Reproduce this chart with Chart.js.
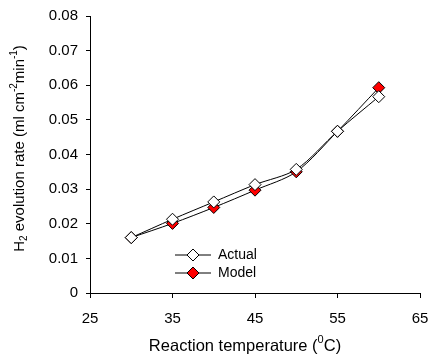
<!DOCTYPE html>
<html>
<head>
<meta charset="utf-8">
<script src="https://cdn.jsdelivr.net/npm/chart.js@4/dist/chart.umd.min.js"></script>
<style>
html,body{margin:0;padding:0;background:#fff;}
#wrap{width:430px;height:358px;position:relative;}
</style>
</head>
<body>
<div id="wrap"><canvas id="c" width="430" height="358"></canvas></div>
<script>
const temperatures = [30, 35, 40, 45, 50, 55, 60];
const actualRate = [0.016, 0.0213, 0.0263, 0.0313, 0.0357, 0.0467, 0.0567];
const modelRate = [0.016, 0.0201, 0.0247, 0.0297, 0.035, 0.0467, 0.0593];
const xTicks = [25, 35, 45, 55, 65];
const yTicks = [0, 0.01, 0.02, 0.03, 0.04, 0.05, 0.06, 0.07, 0.08];
const seriesNames = ['Actual', 'Model'];
const xTitle = [{t:'Reaction temperature ('},{t:'0',sup:true},{t:'C)'}];
const yTitle = [{t:'H'},{t:'2',sub:true},{t:' evolution rate (ml cm'},{t:'-2',sup:true},{t:'min'},{t:'-1',sup:true},{t:')'}];

const FONT = 'Liberation Sans, Arial, sans-serif';
const FS = 15;

function richWidth(ctx, segs, fs){
  let w = 0;
  segs.forEach(s=>{
    const size = (s.sup||s.sub) ? Math.round(fs*0.65) : fs;
    ctx.font = size + 'px ' + FONT;
    w += ctx.measureText(s.t).width;
  });
  return w;
}
function drawRich(ctx, segs, fs, cx, cy){
  const w = richWidth(ctx, segs, fs);
  let x = cx - w/2;
  ctx.textBaseline = 'middle';
  ctx.textAlign = 'left';
  segs.forEach(s=>{
    const size = (s.sup||s.sub) ? Math.round(fs*0.65) : fs;
    ctx.font = size + 'px ' + FONT;
    let dy = 0;
    if (s.sup) dy = -fs*0.38;
    if (s.sub) dy = fs*0.28;
    ctx.fillText(s.t, x, cy + dy);
    x += ctx.measureText(s.t).width;
  });
}

const titlesPlugin = {
  id: 'titles',
  afterDraw(chart){
    const ctx = chart.ctx;
    const ca = chart.chartArea;
    ctx.save();
    ctx.fillStyle = '#000';
    drawRich(ctx, xTitle, 16.5, (ca.left+ca.right)/2 - 10, 346);
    ctx.save();
    ctx.translate(20, (ca.top+ca.bottom)/2 - 6);
    ctx.rotate(-Math.PI/2);
    drawRich(ctx, yTitle, FS, 0, 0);
    ctx.restore();
    ctx.restore();
  }
};

const legendPlugin = {
  id: 'customLegend',
  afterDraw(chart){
    const ctx = chart.ctx;
    const ca = chart.chartArea;
    const x0 = ca.left + 85;
    const ys = [ca.bottom - 38, ca.bottom - 20];
    chart.data.datasets.forEach((ds, i)=>{
      const y = ys[i];
      ctx.save();
      ctx.strokeStyle = '#000';
      ctx.lineWidth = 1;
      ctx.beginPath();
      ctx.moveTo(x0, y); ctx.lineTo(x0+36, y);
      ctx.stroke();
      ctx.fillStyle = ds.pointBackgroundColor;
      ctx.strokeStyle = '#000';
      ctx.beginPath();
      const r = ds.pointRadius;
      const mx = x0+18;
      ctx.moveTo(mx, y-r); ctx.lineTo(mx+r, y); ctx.lineTo(mx, y+r); ctx.lineTo(mx-r, y); ctx.closePath();
      ctx.fill(); ctx.stroke();
      ctx.fillStyle = '#000';
      ctx.font = '14px ' + FONT;
      ctx.textBaseline = 'middle';
      ctx.textAlign = 'left';
      ctx.fillText(ds.label, x0+43, y);
      ctx.restore();
    });
  }
};

const mk = (arr) => temperatures.map((t,i)=>({x:t, y:arr[i]}));

new Chart(document.getElementById('c'), {
  type: 'line',
  data: {
    datasets: [
      {label: seriesNames[0], data: mk(actualRate), borderColor:'#000', borderWidth:1,
       pointStyle:'rectRot', pointRadius:6, pointBackgroundColor:'#ffffff', pointBorderColor:'#000', pointBorderWidth:1,
       tension:0.3, fill:false},
      {label: seriesNames[1], data: mk(modelRate), borderColor:'#000', borderWidth:1,
       pointStyle:'rectRot', pointRadius:6, pointBackgroundColor:'#ff0000', pointBorderColor:'#000', pointBorderWidth:1,
       tension:0.3, fill:false}
    ]
  },
  options: {
    responsive:false,
    animation:false,
    layout:{padding:{left:0, right:0, top:16, bottom:0}},
    plugins:{legend:{display:false}, tooltip:{enabled:false}},
    scales:{
      x:{
        type:'linear', min:xTicks[0], max:xTicks[xTicks.length-1],
        afterBuildTicks(s){ s.ticks = xTicks.map(v=>({value:v})); },
        afterFit(s){ s.height = 65; s.paddingLeft = 0; s.paddingRight = 10; },
        grid:{display:true, drawOnChartArea:false, drawTicks:true, tickLength:5, color:'#000', tickColor:'#000'},
        border:{display:true, color:'#000', width:1},
        ticks:{color:'#000', font:{family:FONT, size:FS}, padding:12, maxRotation:0, callback:(v)=>String(v)}
      },
      y:{
        type:'linear', min:yTicks[0], max:yTicks[yTicks.length-1],
        afterBuildTicks(s){ s.ticks = yTicks.map(v=>({value:v})); },
        afterFit(s){ s.width = 90; s.paddingTop = 0; s.paddingBottom = 0; },
        grid:{display:true, drawOnChartArea:false, drawTicks:true, tickLength:4, color:'#000', tickColor:'#000'},
        border:{display:true, color:'#000', width:1},
        ticks:{color:'#000', font:{family:FONT, size:FS}, padding:8, callback:(v)=> v===0 ? '0' : v.toFixed(2)}
      }
    }
  },
  plugins:[titlesPlugin, legendPlugin]
});
</script>
</body>
</html>
